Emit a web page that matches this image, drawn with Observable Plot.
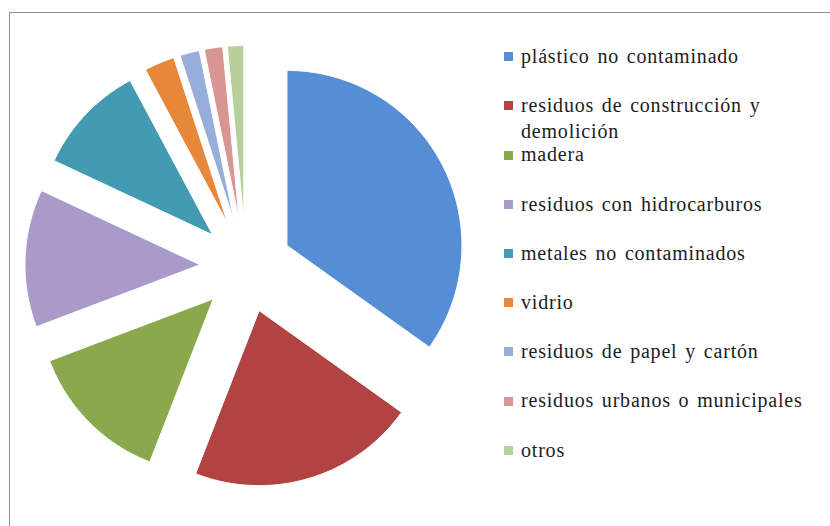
<!DOCTYPE html>
<html>
<head>
<meta charset="utf-8">
<script src="https://cdn.jsdelivr.net/npm/d3@7"></script>
<script src="https://cdn.jsdelivr.net/npm/@observablehq/plot@0.6"></script>
<style>
  html, body { margin: 0; padding: 0; width: 830px; height: 526px; overflow: hidden; background: #fff; }
  #frame { position: absolute; left: 9px; top: 12px; width: 840px; height: 540px; border: 1px solid #8f8f8f; box-sizing: border-box; }
  #chart { position: absolute; left: 0; top: 0; }
  #legend { position: absolute; left: 0; top: 0; width: 830px; height: 526px; color: #1c1c1c; }
  .item { position: absolute; left: 504px; width: 320px; }
  .sw { position: absolute; left: 0; width: 9px; height: 9px; }
  .lb { position: absolute; left: 17px; width: 296px; line-height: 25.5px; font-family: 'Liberation Serif', 'Times New Roman', serif; font-size: 20px; letter-spacing: 0.8px; word-spacing: 2px; }
</style>
</head>
<body>
<div id="frame"></div>
<div id="chart"></div>
<div id="legend"></div>
<script>
// ---- data ----
const categories = [
  "plástico no contaminado",
  "residuos de construcción y demolición",
  "madera",
  "residuos con hidrocarburos",
  "metales no contaminados",
  "vidrio",
  "residuos de papel y cartón",
  "residuos urbanos o municipales",
  "otros"
];
const shares = [34.8, 21.0, 13.3, 12.7, 10.2, 2.8, 1.8, 1.7, 1.5];
const colors = ["#558ED5", "#B14342", "#8AA84C", "#A99AC9", "#439BB3", "#E6873A", "#97ADDA", "#D99594", "#B7CF98"];

// ---- layout ----
const W = 480, H = 526;
const cx = 245.5, cy = 266, R = 175;   // pie center and radius in pixels
const explode = 0.263;                  // explosion as fraction of radius

const arcs = d3.pie().sort(null).value(d => d)(shares);
const pts = [];
arcs.forEach((a, i) => {
  const name = categories[i];
  const mid = (a.startAngle + a.endAngle) / 2;
  const ox = explode * Math.sin(mid), oy = explode * Math.cos(mid);
  pts.push({name, x: ox, y: oy});
  const n = Math.max(2, Math.ceil((a.endAngle - a.startAngle) / 0.01));
  for (let k = 0; k <= n; k++) {
    const t = a.startAngle + (a.endAngle - a.startAngle) * k / n;
    pts.push({name, x: ox + Math.sin(t), y: oy + Math.cos(t)});
  }
  pts.push({name, x: ox, y: oy});
});

const chart = Plot.plot({
  width: W,
  height: H,
  margin: 0,
  style: {background: "transparent"},
  x: {domain: [-cx / R, (W - cx) / R], axis: null},
  y: {domain: [(cy - H) / R, cy / R], axis: null},
  color: {domain: categories, range: colors},
  marks: [
    Plot.line(pts, {x: "x", y: "y", z: "name", fill: "name", stroke: "white", strokeWidth: 1, curve: "linear"})
  ]
});
document.getElementById("chart").appendChild(chart);

// ---- legend ----
const legend = document.getElementById("legend");
const row0 = 56.7, rowStep = 49.2;
categories.forEach((c, i) => {
  const yc = row0 + i * rowStep;
  const item = document.createElement("div");
  item.className = "item";
  item.style.top = (yc - 12.75) + "px";
  const sw = document.createElement("div");
  sw.className = "sw";
  sw.style.background = colors[i];
  sw.style.top = (12.75 - 4.5) + "px";
  const lb = document.createElement("div");
  lb.className = "lb";
  lb.textContent = c;
  item.appendChild(sw);
  item.appendChild(lb);
  legend.appendChild(item);
});
</script>
</body>
</html>
